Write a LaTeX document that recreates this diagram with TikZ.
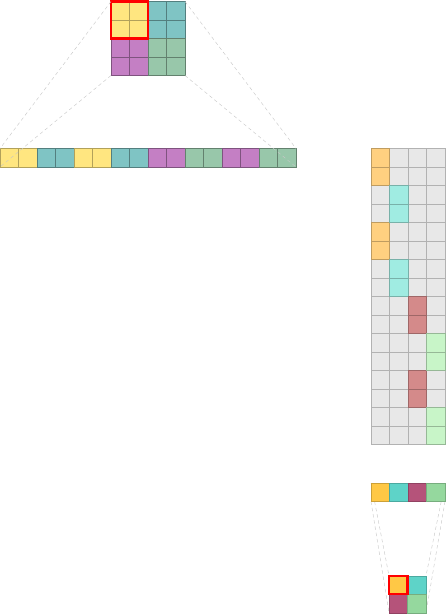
\documentclass[tikz,border=0pt]{standalone}
\usepackage{xcolor}
\usepackage{tikz}
\usetikzlibrary{positioning, backgrounds}
\definecolor{patchyel}{RGB}{255, 230, 128}
\definecolor{patchteal}{RGB}{127, 196, 196}
\definecolor{patchpur}{RGB}{196, 127, 196}
\definecolor{patchgrn}{RGB}{152, 199, 170}
\definecolor{matorange}{RGB}{255, 208, 128}
\definecolor{matcyan}{RGB}{160, 236, 226}
\definecolor{matred}{RGB}{212, 138, 138}
\definecolor{matgrn}{RGB}{200, 245, 200}
\definecolor{matgray}{RGB}{232, 232, 232}
\definecolor{outorange}{RGB}{255, 200, 69}
\definecolor{outteal}{RGB}{94, 211, 200}
\definecolor{outmaroon}{RGB}{181, 83, 122}
\definecolor{outgrn}{RGB}{149, 216, 158}

\begin{document}
\begin{tikzpicture}[
    x=0.5mm, y=-0.5mm,
    cell/.style={rectangle, draw, inner sep=0pt, outer sep=0pt, minimum size=9.25mm, line width=0.7pt},
    cyel/.style={fill=patchyel, draw=patchyel!70!black},
    cteal/.style={fill=patchteal, draw=patchteal!65!black},
    cpur/.style={fill=patchpur, draw=patchpur!65!black},
    cgrn/.style={fill=patchgrn, draw=patchgrn!65!black},
    mgray/.style={fill=matgray, draw=black!30},
    morange/.style={fill=matorange, draw=matorange!75!black},
    mcyan/.style={fill=matcyan, draw=matcyan!75!black},
    mred/.style={fill=matred, draw=matred!75!black},
    mgrn/.style={fill=matgrn, draw=matgrn!75!black},
    oorange/.style={fill=outorange, draw=outorange!80!black},
    oteal/.style={fill=outteal, draw=outteal!80!black},
    omaroon/.style={fill=outmaroon, draw=outmaroon!80!black},
    ogrn/.style={fill=outgrn, draw=outgrn!80!black},
    guide/.style={draw=black!22, dash pattern=on 5pt off 4pt, line width=0.6pt},
    hilite/.style={draw=red, line width=3.2pt}
]
    \useasboundingbox (0,0) rectangle (446,614);

    % Top: 4x4 image patch and its flattened row
    \foreach \c [count=\k] in {cyel,cyel,cteal,cteal,cyel,cyel,cteal,cteal,cpur,cpur,cgrn,cgrn,cpur,cpur,cgrn,cgrn} {
        \pgfmathtruncatemacro{\row}{(\k-1)/4}
        \pgfmathtruncatemacro{\col}{mod(\k-1,4)}
        \node[cell, \c] (t\k) at ({111+18.5*(\col+0.5)}, {1.5+18.5*(\row+0.5)}) {};
        \node[cell, \c] (s\k) at ({18.5*(\k-0.5)}, {148.5+9.25}) {};
    }
    \draw[hilite] (t1.north west) rectangle (t6.south east);

    \draw[guide] (t1.north west) -- (s1.north west);
    \draw[guide] (t13.south west) -- (s1.south west);
    \draw[guide] (t4.north east) -- (s16.north east);
    \draw[guide] (t16.south east) -- (s16.south east);

    % Right: 16x4 matrix
    \foreach \r in {1,...,16} {
        \foreach \j in {1,...,4} {
            \node[cell, mgray] (m\r-\j) at ({371+18.5*(\j-0.5)}, {148.5+18.5*(\r-0.5)}) {};
        }
    }
    \foreach \r/\j/\c in {1/1/morange, 2/1/morange, 5/1/morange, 6/1/morange,
                          3/2/mcyan, 4/2/mcyan, 7/2/mcyan, 8/2/mcyan,
                          9/3/mred, 10/3/mred, 13/3/mred, 14/3/mred,
                          11/4/mgrn, 12/4/mgrn, 15/4/mgrn, 16/4/mgrn} {
        \node[cell, \c] at (m\r-\j) {};
    }

    % Bottom: output row and 2x2 patch
    \foreach \c [count=\k] in {oorange,oteal,omaroon,ogrn} {
        \node[cell, \c] (b\k) at ({371+18.5*(\k-0.5)}, {483+9.25}) {};
    }
    \node[cell, oorange] (q1) at (398.25, 585) {};
    \node[cell, oteal, right=0pt of q1] (q2) {};
    \node[cell, omaroon, below=0pt of q1] (q3) {};
    \node[cell, ogrn, right=0pt of q3] (q4) {};
    \draw[hilite] (q1.north west) rectangle (q1.south east);

    \begin{pgfonlayer}{background}
        \draw[guide] (b1.north west) -- (q1.north west);
        \draw[guide] (b1.south west) -- (q3.south west);
        \draw[guide] (b4.north east) -- (q2.north east);
        \draw[guide] (b4.south east) -- (q4.south east);
    \end{pgfonlayer}
\end{tikzpicture}
\end{document}
